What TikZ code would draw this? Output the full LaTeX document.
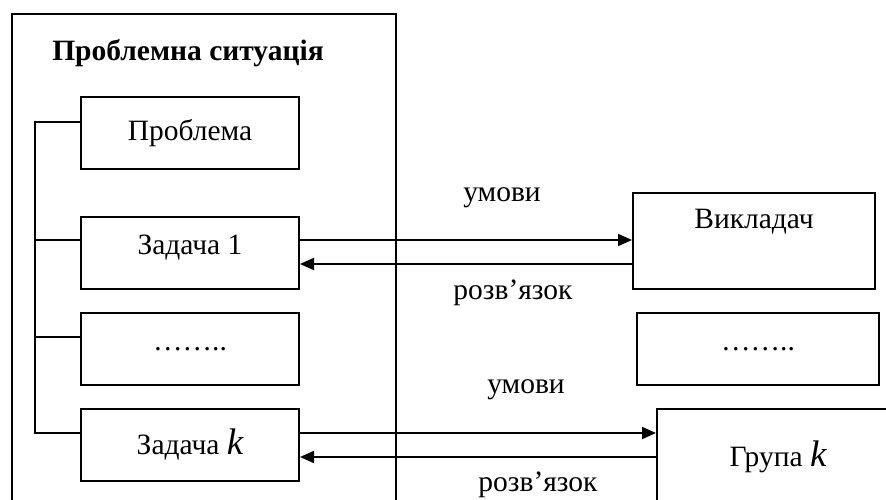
\documentclass[tikz,border=0pt]{standalone}
\usepackage{fontspec}
\setmainfont{Liberation Serif}
\usetikzlibrary{arrows.meta,positioning}

\tikzset{
    box/.style={draw, line width=2pt, minimum width=218pt, minimum height=72pt, inner sep=0pt},
    wbox/.style={box, minimum width=242pt},
    link/.style={line width=2pt},
    arr/.style={line width=2pt, -{Triangle[length=14pt,width=12pt]}}
}
\newcommand{\kvar}{{\fontsize{37}{40}\selectfont\itshape k}}

\begin{document}
\begin{tikzpicture}[x=1pt, y=-1pt, font=\fontsize{29.5}{34}\selectfont]
    \useasboundingbox (0,0) rectangle (886,500);
    \clip (0,0) rectangle (886,500);

    % problem situation
    \node [draw, line width=2pt, minimum width=384pt, minimum height=520pt, anchor=north west] (sit) at (11,13) {};
    \node [font=\fontsize{29.5}{34}\selectfont\bfseries] (sittitle) at (188,53) {Проблемна ситуація};

    \node [box] (prob) at (190,133) {Проблема};
    \node [box, text depth=17pt] (zad1) at (190,253) {Задача 1};
    \node [box] (dotsl) at (190,349) {……..};
    \node [box] (zadk) at (190,445) {Задача \kvar};

    % teacher and groups
    \node [wbox, minimum height=96pt] (vykl) at (754,241) {};
    \node (vykltxt) at (754,222) {Викладач};
    \node [wbox] (dotsr) at (758,349) {……..};
    \node [wbox, minimum height=96pt] (grk) at (778,457) {Група \kvar};

    % bus
    \coordinate (bus) at (35,0);
    \coordinate (zkin) at ([yshift=12pt]zadk.west);
    \draw [link] ([yshift=11pt]prob.west) -| (bus |- zkin) -- (zkin);
    \draw [link] ([yshift=13pt]zad1.west) -- ++(-46pt,0);
    \draw [link] ([yshift=12pt]dotsl.west) -- ++(-46pt,0);

    % links
    \coordinate (z1out) at ([yshift=13pt]zad1.east);
    \coordinate (z1back) at ([yshift=-11pt]zad1.east);
    \coordinate (zkout) at ([yshift=12pt]zadk.east);
    \coordinate (zkback) at ([yshift=-12pt]zadk.east);

    \draw [arr] (z1out) -- (z1out -| vykl.west);
    \draw [arr] (z1back -| vykl.west) -- (z1back);
    \draw [arr] (zkout) -- (zkout -| grk.west);
    \draw [arr] (zkback -| grk.west) -- (zkback);

    \node (cond1) at (502,198) {умови};
    \node (sol1) at (513,293) {розв’язок};
    \node (cond2) at (526,390) {умови};
    \node (sol2) at (538,485) {розв’язок};
\end{tikzpicture}
\end{document}
